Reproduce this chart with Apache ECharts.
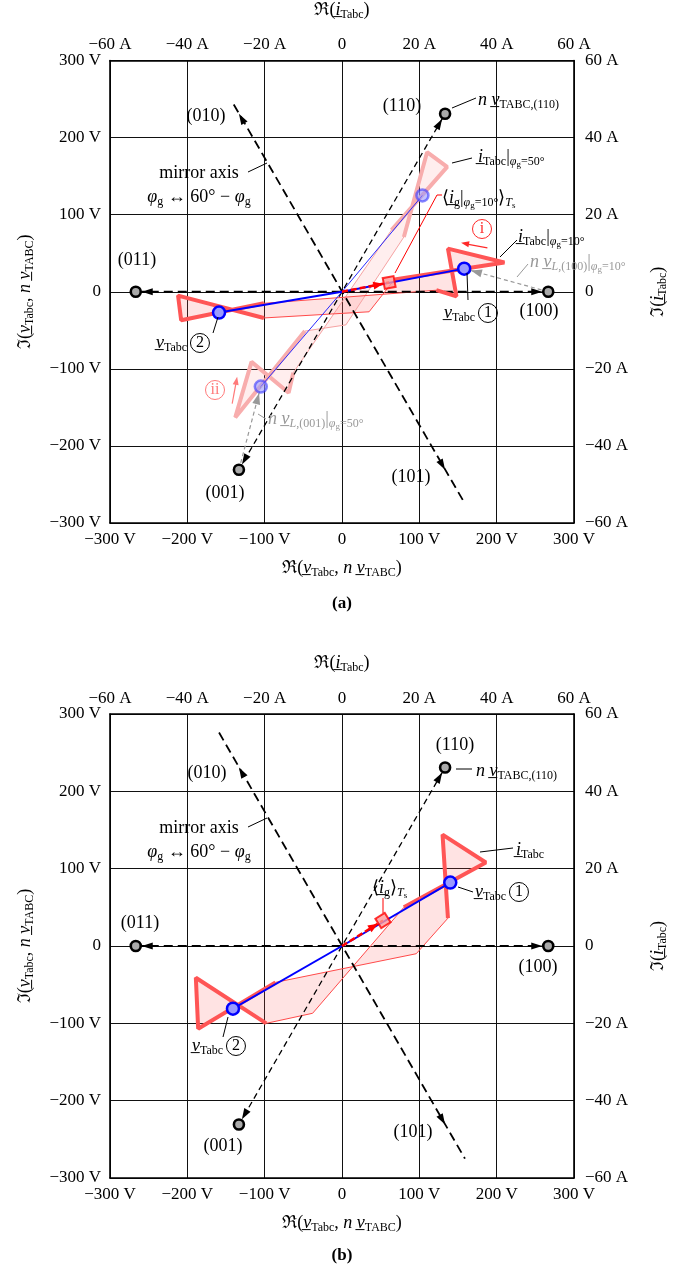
<!DOCTYPE html>
<html>
<head>
<meta charset="utf-8">
<script src="https://cdn.jsdelivr.net/npm/echarts@6/dist/echarts.min.js"></script>
<style>
html, body { margin: 0; padding: 0; background: #fff; }
#main { width: 683px; height: 1270px; }
</style>
</head>
<body>
<div id="main"></div>
<script>
// tick labels
var voltTicks = [-300, -200, -100, 0, 100, 200, 300]
var voltTickLabels = ['−300 V', '−200 V', '−100 V', '0', '100 V', '200 V', '300 V']
var ampTicks = [-60, -40, -20, 0, 20, 40, 60]
var ampTickLabels = ['−60 A', '−40 A', '−20 A', '0', '20 A', '40 A', '60 A']

// switching state voltage vectors n*v_TABC (V)
var vec100 = [266.7, 0]
var vec110 = [133.3, 230.9]
var vec010 = [-133.3, 230.9]
var vec011 = [-266.7, 0]
var vec001 = [-133.3, -230.9]
var vec101 = [133.3, -230.9]
var markerVecs = [vec100, vec110, vec011, vec001]

// mirror axis ends
var mirrorA = [[-140, 243], [159, -275]]
var mirrorB = [[-159, 276], [159, -275]]

// (a) phi_g = 10 deg : transformer current trajectory (scaled to V axis)
var traj10 = [[137, 56], [210, 38], [68, 16], [35, -26], [-101, -34], [-212, -5], [-208, -37], [-101, -15], [122, 2], [148, -6], [137, 56]]
var thick10a = [[122, 2], [148, -6], [137, 56], [210, 38], [68, 16]]
var thick10b = [[-101, -34], [-212, -5], [-208, -37], [-101, -15]]
// (a) phi_g = 50 deg
var traj50 = [[-117, -91], [-138, -163], [-48, -51], [5, -43], [80, 71], [110, 181], [136, 162], [64, 80], [-63, -105], [-69, -131], [-117, -91]]
var thick50a = [[-63, -105], [-69, -131], [-117, -91], [-138, -163], [-48, -51]]
var thick50b = [[80, 71], [110, 181], [136, 162], [64, 80]]
var vTabcA = [[158, 30], [-159, -27]]
var vTabcA50 = [[104, 125], [-105, -123]]
var igA = [61, 12]

// (b) phi_g = 30 deg
var trajB = [[130, 144], [186, 108], [80, 50], [-38, -87], [-98, -100], [-189, -41], [-186, -107], [-86, -47], [96, -10], [137, 36], [130, 144]]
var thickB1 = [[137, 36], [130, 144], [186, 108], [80, 50]]
var thickB2 = [[-98, -100], [-189, -41], [-186, -107], [-86, -47]]
var vTabcB = [[140, 82], [-141, -81]]
var igB = [53, 33]

var F = 'Liberation Serif'
var myChart = echarts.init(document.getElementById('main'))

function R(color) {
  return {
    n: { fontFamily: F, fontSize: 18, color: color },
    it: { fontFamily: F, fontSize: 18, fontStyle: 'italic', color: color },
    sub: { fontFamily: F, fontSize: 12, color: color, padding: [9, 0, 0, 0] },
    subit: { fontFamily: F, fontSize: 12, fontStyle: 'italic', color: color, padding: [9, 0, 0, 0] },
    subsub: { fontFamily: F, fontSize: 9, color: color, padding: [15, 0, 0, 0] },
    c: { fontFamily: F, fontSize: 16, color: color, borderColor: color, borderWidth: 1, borderRadius: 10, width: 19, height: 19, lineHeight: 19, align: 'center' }
  }
}

function fmt(ticks, labels) {
  return function(v) { return labels[ticks.indexOf(Math.round(v))] }
}

function xAxes(g) {
  return [
    { type: 'value', gridIndex: g, position: 'bottom', min: -300, max: 300, interval: 100,
      name: '{n|ℜ(}{it|v\u0332}{sub|Tabc}{n|, }{it|n v\u0332}{sub|TABC}{n|)}', nameLocation: 'middle', nameGap: 35,
      nameTextStyle: { rich: R('#000') },
      axisLine: { onZero: false, lineStyle: { color: '#000', width: 1.6 } }, axisTick: { show: false },
      axisLabel: { margin: 8, color: '#000', fontFamily: F, fontSize: 17, formatter: fmt(voltTicks, voltTickLabels) },
      splitLine: { show: true, lineStyle: { color: '#111', width: 1 } } },
    { type: 'value', gridIndex: g, position: 'top', min: -60, max: 60, interval: 20,
      name: '{n|ℜ(}{it|i\u0332}{sub|Tabc}{n|)}', nameLocation: 'middle', nameGap: 40,
      nameTextStyle: { rich: R('#000') },
      axisLine: { onZero: false, lineStyle: { color: '#000', width: 1.6 } }, axisTick: { show: false },
      axisLabel: { margin: 7, color: '#000', fontFamily: F, fontSize: 17, formatter: fmt(ampTicks, ampTickLabels) },
      splitLine: { show: false } }
  ]
}
function yAxes(g) {
  return [
    { type: 'value', gridIndex: g, position: 'left', min: -300, max: 300, interval: 100,
      name: '{n|ℑ(}{it|v\u0332}{sub|Tabc}{n|, }{it|n v\u0332}{sub|TABC}{n|)}', nameLocation: 'middle', nameGap: 74, nameRotate: 90,
      nameTextStyle: { rich: R('#000') },
      axisLine: { onZero: false, lineStyle: { color: '#000', width: 1.6 } }, axisTick: { show: false },
      axisLabel: { margin: 9, color: '#000', fontFamily: F, fontSize: 17, formatter: fmt(voltTicks, voltTickLabels) },
      splitLine: { show: true, lineStyle: { color: '#111', width: 1 } } },
    { type: 'value', gridIndex: g, position: 'right', min: -60, max: 60, interval: 20,
      name: '{n|ℑ(}{it|i\u0332}{sub|Tabc}{n|)}', nameLocation: 'middle', nameGap: 74, nameRotate: 90,
      nameTextStyle: { rich: R('#000') },
      axisLine: { onZero: false, lineStyle: { color: '#000', width: 1.6 } }, axisTick: { show: false },
      axisLabel: { margin: 11, color: '#000', fontFamily: F, fontSize: 17, formatter: fmt(ampTicks, ampTickLabels) },
      splitLine: { show: false } }
  ]
}

function poly(pts, ax, fill, z) {
  return { type: 'custom', xAxisIndex: ax, yAxisIndex: ax, z: z, silent: true, data: [pts[0]],
    renderItem: function(params, api) {
      var p = pts.map(function(q) { return api.coord(q) })
      return { type: 'polygon', shape: { points: p }, style: { fill: fill, stroke: 'none' } }
    } }
}
function line(pts, ax, color, width, type, z) {
  return { type: 'line', xAxisIndex: ax, yAxisIndex: ax, z: z, silent: true, data: pts,
    symbol: 'none', showSymbol: false, lineStyle: { color: color, width: width, type: type || 'solid' } }
}
// each arrow: [x1, y1, x2, y2, pullback px]
function arrows(list, ax, color, len, half, z) {
  return { type: 'custom', xAxisIndex: ax, yAxisIndex: ax, z: z, silent: true, data: list,
    renderItem: function(params, api) {
      var a = api.coord([api.value(0), api.value(1)])
      var b = api.coord([api.value(2), api.value(3)])
      var dx = b[0] - a[0], dy = b[1] - a[1], L = Math.sqrt(dx * dx + dy * dy)
      dx /= L; dy /= L
      var back = api.value(4)
      var tx = b[0] - dx * back, ty = b[1] - dy * back
      var bx = tx - dx * len, by = ty - dy * len
      return { type: 'polygon', shape: { points: [[tx, ty], [bx - dy * half, by + dx * half], [bx + dy * half, by - dx * half]] }, style: { fill: color } }
    } }
}
function dots(pts, ax, size, color, border, bw, z, opacity) {
  return { type: 'scatter', xAxisIndex: ax, yAxisIndex: ax, z: z, silent: true, data: pts, symbolSize: size,
    itemStyle: { color: color, borderColor: border, borderWidth: bw, opacity: opacity || 1 } }
}

function panelSeries(ax, mirror) {
  var s = []
  s.push(line([vec011, vec100], ax, '#000', 1.8, [9, 5], 6))
  s.push(line([vec001, vec110], ax, '#000', 1.3, [6, 4], 6))
  s.push(line(mirror, ax, '#000', 1.8, [9, 5], 6))
  s.push(arrows([
    [0, 0, vec100[0], vec100[1], 6], [0, 0, vec011[0], vec011[1], 6],
    [0, 0, vec110[0], vec110[1], 6], [0, 0, vec001[0], vec001[1], 6],
    [0, 0, vec010[0], vec010[1], 0], [0, 0, vec101[0], vec101[1], 0]
  ], ax, '#000', 11, 3.6, 7))
  s.push(dots(markerVecs, ax, 10, '#aaa', '#000', 2.6, 12))
  return s
}

var series = []
// panel (a)
series.push(poly(traj50, 0, 'rgba(255,120,120,0.13)', 2))
series.push(poly(traj10, 0, 'rgba(255,90,90,0.17)', 2))
series.push(line(traj50, 0, '#f6a3a3', 1, 'solid', 3))
series.push(line(thick50a, 0, '#f8adad', 4, 'solid', 4))
series.push(line(thick50b, 0, '#f8adad', 4, 'solid', 4))
series.push(line(traj10, 0, '#ff4a4a', 1, 'solid', 3))
series = series.concat(panelSeries(0, mirrorA))
series.push(line([vec100, vTabcA[0]], 0, '#999', 1.2, [4, 3], 8))
series.push(line([vec001, vTabcA50[1]], 0, '#999', 1.2, [4, 3], 8))
series.push(arrows([[vec100[0], vec100[1], vTabcA[0][0], vTabcA[0][1], 7], [vec001[0], vec001[1], vTabcA50[1][0], vTabcA50[1][1], 7]], 0, '#999', 11, 4, 8))
series.push(line(thick10a, 0, '#ff5555', 4, 'solid', 8))
series.push(line(thick10b, 0, '#ff5555', 4, 'solid', 8))
series.push(line([[0, 0], vTabcA50[0]], 0, '#2a2aff', 1, 'solid', 9))
series.push(line([[0, 0], vTabcA50[1]], 0, '#2a2aff', 1, 'solid', 9))
series.push(line([[0, 0], vTabcA[0]], 0, '#0000ff', 2, 'solid', 9))
series.push(line([[0, 0], vTabcA[1]], 0, '#0000ff', 2, 'solid', 9))
series.push(line([[0, 0], igA], 0, '#ff0000', 2.5, [6, 3], 10))
series.push(arrows([[0, 0, igA[0], igA[1], 6]], 0, '#ff0000', 10, 4, 10))
series.push(dots(vTabcA50, 0, 12, '#9a9aff', '#3b3bff', 2.5, 11, 0.6))
series.push(dots(vTabcA, 0, 12, '#9a9aff', '#0000ff', 2.5, 11))
series.push({ type: 'scatter', xAxisIndex: 0, yAxisIndex: 0, z: 11, silent: true, data: [igA], symbol: 'rect', symbolSize: 11, symbolRotate: 11,
  itemStyle: { color: '#f99', borderColor: '#f00', borderWidth: 2 } })
// direction hint arrows (i) and (ii)
series.push(line([[188, 57], [160, 62]], 0, '#ff2a2a', 1.2, 'solid', 10))
series.push(arrows([[188, 57, 154, 63.5, 0]], 0, '#ff2a2a', 8, 3, 10))
series.push(line([[-142, -145], [-137, -118]], 0, '#ff7a7a', 1.2, 'solid', 10))
series.push(arrows([[-142, -145, -135.6, -110.4, 0]], 0, '#ff7a7a', 8, 3, 10))

// panel (b)
series.push(poly(trajB, 2, 'rgba(255,90,90,0.17)', 2))
series.push(line(trajB, 2, '#ff4a4a', 1, 'solid', 3))
series = series.concat(panelSeries(2, mirrorB))
series.push(line(thickB1, 2, '#ff5555', 4, 'solid', 8))
series.push(line(thickB2, 2, '#ff5555', 4, 'solid', 8))
series.push(line([[0, 0], vTabcB[0]], 2, '#0000ff', 2, 'solid', 9))
series.push(line([[0, 0], vTabcB[1]], 2, '#0000ff', 2, 'solid', 9))
series.push(line([[0, 0], igB], 2, '#ff0000', 2.5, [6, 3], 10))
series.push(arrows([[0, 0, igB[0], igB[1], 6]], 2, '#ff0000', 10, 4, 10))
series.push(dots(vTabcB, 2, 12, '#9a9aff', '#0000ff', 2.5, 11))
series.push({ type: 'scatter', xAxisIndex: 2, yAxisIndex: 2, z: 11, silent: true, data: [igB], symbol: 'rect', symbolSize: 11, symbolRotate: 32,
  itemStyle: { color: '#f99', borderColor: '#f00', borderWidth: 2 } })

// annotation texts and leader lines (pixel positions)
function txt(x, y, s, align, color) {
  return { type: 'text', x: x, y: y, z: 100, silent: true,
    style: { text: s, rich: R(color || '#000'), align: align || 'left', verticalAlign: 'middle', textAlign: align || 'left', textVerticalAlign: 'middle', fill: color || '#000' } }
}
function seg(pts, color, w) {
  return { type: 'polyline', z: 100, silent: true, shape: { points: pts }, style: { stroke: color || '#000', lineWidth: w || 1, fill: null } }
}
function mirrorLabel(y) {
  return [txt(199, y, '{n|mirror axis}', 'center'), txt(199, y + 24, '{it|φ}{sub|g}{n| ↔ 60° − }{it|φ}{sub|g}', 'center')]
}

var g = []
// (a)
g.push(txt(206, 116, '{n|(010)}', 'center'), txt(402, 106, '{n|(110)}', 'center'), txt(137, 260, '{n|(011)}', 'center'),
  txt(539, 311, '{n|(100)}', 'center'), txt(225, 493, '{n|(001)}', 'center'), txt(411, 477, '{n|(101)}', 'center'))
g.push(txt(478, 100, '{it|n v\u0332}{sub|TABC,(110)}'))
g.push(seg([[452, 108], [476, 98]]))
g = g.concat(mirrorLabel(173))
g.push(seg([[248, 172], [267, 163]]))
g.push(txt(478, 157, '{it|i\u0332}{sub|Tabc}{n||}{subit|φ}{subsub|g}{sub|=50°}'))
g.push(seg([[452, 163], [472, 158]]))
g.push(txt(442, 198, '{n|⟨}{it|i\u0332}{sub|g}{n||}{subit|φ}{subsub|g}{sub|=10°}{n|⟩}{subit|T}{subsub|s}'))
g.push(seg([[395, 273], [437, 195], [442, 195]], '#f00'))
g.push(txt(518, 237, '{it|i\u0332}{sub|Tabc}{n||}{subit|φ}{subsub|g}{sub|=10°}'))
g.push(seg([[500, 257], [517, 240]]))
g.push(txt(530, 262, '{it|n v\u0332}{subit|L}{sub|,(100)}{n||}{subit|φ}{subsub|g}{sub|=10°}', 'left', '#999'))
g.push(seg([[517, 277], [528, 264]], '#999'))
g.push(txt(444, 313, '{it|v\u0332}{sub|Tabc} {c|1}'))
g.push(seg([[467, 273], [468, 300]]))
g.push(txt(156, 343, '{it|v\u0332}{sub|Tabc} {c|2}'))
g.push(seg([[218, 317], [213, 333]]))
g.push(txt(482, 229, '{c|i}', 'center', '#ff2a2a'))
g.push(txt(215, 390, '{c|ii}', 'center', '#ff7a7a'))
g.push(txt(268, 419, '{it|n v\u0332}{subit|L}{sub|,(001)}{n||}{subit|φ}{subsub|g}{sub|=50°}', 'left', '#999'))
g.push(seg([[258, 414], [266, 419]], '#999'))
g.push({ type: 'text', x: 342, y: 604, z: 100, style: { text: '(a)', font: 'bold 17px "Liberation Serif"', fill: '#000', align: 'center', verticalAlign: 'middle', textAlign: 'center', textVerticalAlign: 'middle' } })
// (b)
g.push(txt(207, 773, '{n|(010)}', 'center'), txt(455, 745, '{n|(110)}', 'center'), txt(140, 923, '{n|(011)}', 'center'),
  txt(538, 967, '{n|(100)}', 'center'), txt(223, 1146, '{n|(001)}', 'center'), txt(413, 1132, '{n|(101)}', 'center'))
g.push(txt(476, 771, '{it|n v\u0332}{sub|TABC,(110)}'))
g.push(seg([[456, 769], [472, 769]]))
g = g.concat(mirrorLabel(828))
g.push(seg([[248, 827], [267, 818]]))
g.push(txt(516, 850, '{it|i\u0332}{sub|Tabc}'))
g.push(seg([[480, 852], [513, 848]]))
g.push(txt(475, 892, '{it|v\u0332}{sub|Tabc} {c|1}'))
g.push(seg([[458, 887], [473, 892]]))
g.push(txt(372, 888, '{n|⟨}{it|i\u0332}{sub|g}{n|⟩}{subit|T}{subsub|s}'))
g.push(seg([[383, 913], [383, 898]], '#f00'))
g.push(txt(192, 1046, '{it|v\u0332}{sub|Tabc} {c|2}'))
g.push(seg([[228, 1017], [223, 1037]]))
g.push({ type: 'text', x: 342, y: 1256, z: 100, style: { text: '(b)', font: 'bold 17px "Liberation Serif"', fill: '#000', align: 'center', verticalAlign: 'middle', textAlign: 'center', textVerticalAlign: 'middle' } })

var option = {
  animation: false,
  backgroundColor: '#fff',
  grid: [
    { left: 110, top: 59, width: 464, height: 464, show: false },
    { left: 110, top: 714, width: 464, height: 464, show: false }
  ],
  xAxis: xAxes(0).concat(xAxes(1)),
  yAxis: yAxes(0).concat(yAxes(1)),
  series: series,
  graphic: g
}
myChart.setOption(option)
</script>
</body>
</html>
